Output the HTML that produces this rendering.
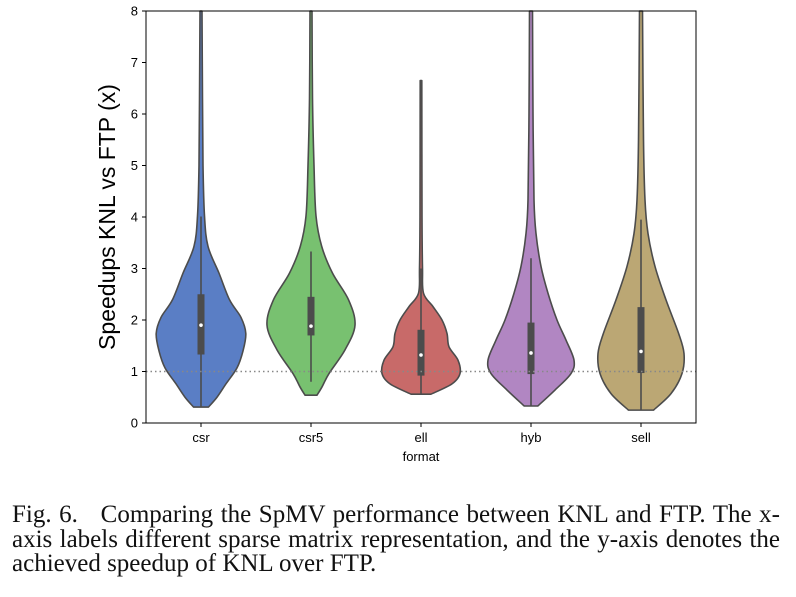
<!DOCTYPE html>
<html><head><meta charset="utf-8"><style>
body{margin:0;background:#fff;width:796px;height:597px;overflow:hidden;position:relative}
#cap{position:absolute;left:12px;top:503px;width:768px;font-family:"Liberation Serif",serif;font-size:25px;line-height:24.5px;color:#111}
#cap div{text-align:justify;text-align-last:justify;white-space:nowrap}
#cap div.last{text-align-last:left}
</style></head><body>
<svg id="chart" width="796" height="500" style="position:absolute;left:0;top:0" font-family="Liberation Sans, sans-serif"></svg>
<div id="cap">
<div>Fig. 6.&nbsp;&nbsp; Comparing the SpMV performance between KNL and FTP. The x-</div>
<div>axis labels different sparse matrix representation, and the y-axis denotes the</div>
<div class="last">achieved speedup of KNL over FTP.</div>
</div>
<script>
const categories=["csr","csr5","ell","hyb","sell"];
const colors=["#5a7ec5","#78c170","#c86a69","#b186c2","#bba774"];
const yTicks=[0,1,2,3,4,5,6,7,8];
const csrV=[0.31,0.5,0.76,1.07,1.4,1.74,2.05,2.39,2.91,3.43,4.02,5,6.28,8];
const csrW=[7.5,16,25,36,42,44.8,40,28.6,18,7,3.5,2,1.5,1];
const csr5V=[0.54,0.7,0.96,1.42,1.9,2.39,2.91,3.43,4.02,5,6.3,8];
const csr5W=[6,11,18,34,44,37.6,21.5,10.7,5,3,1.5,1];
const ellV=[0.56,0.76,0.96,1.22,1.48,1.74,2.0,2.26,2.52,3.0,4,6.65];
const ellW=[10,31,39,37,28,26,21,12,2.5,1.5,1,0.8];
const hybV=[0.33,0.64,0.96,1.22,1.61,2.0,2.52,3.04,3.68,4.33,6,8];
const hybW=[6.8,24,40,43,35,26,17,10,5,3,2,1.5];
const sellV=[0.25,0.57,0.96,1.35,1.74,2.39,3.04,3.68,4.33,5.5,8];
const sellW=[12.5,30,41,43,37.6,25,14,7,4,2.5,1.5];
const q1=[1.33,1.70,0.92,0.95,0.97];
const q3=[2.50,2.45,1.81,1.95,2.25];
const medians=[1.90,1.88,1.32,1.36,1.39];
const whiskLo=[0.31,0.80,0.56,0.33,0.25];
const whiskHi=[4.01,3.33,3.0,3.2,3.95];
const profiles=[[csrV,csrW],[csr5V,csr5W],[ellV,ellW],[hybV,hybW],[sellV,sellW]];

const svg=document.getElementById('chart');const NS="http://www.w3.org/2000/svg";
const L=146,R=696,T=11,B=423,ymax=8;
const y=v=>B-(v/ymax)*(B-T);
const x=i=>L+(R-L)*(i+0.5)/categories.length;
function el(tag,a,p){const e=document.createElementNS(NS,tag);for(const k in a)e.setAttribute(k,a[k]);(p||svg).appendChild(e);return e;}
function smooth(pts){
  let d="";
  for(let k=0;k<pts.length-1;k++){
    const p0=pts[Math.max(k-1,0)],p1=pts[k],p2=pts[k+1],p3=pts[Math.min(k+2,pts.length-1)];
    const c1=[p1[0]+(p2[0]-p0[0])/6,p1[1]+(p2[1]-p0[1])/6];
    const c2=[p2[0]-(p3[0]-p1[0])/6,p2[1]-(p3[1]-p1[1])/6];
    d+=" C"+c1[0]+","+c1[1]+" "+c2[0]+","+c2[1]+" "+p2[0]+","+p2[1];
  }
  return d;
}
categories.forEach((c,i)=>{
  const [vs,ws]=profiles[i];const cx=x(i);
  const left=vs.map((v,k)=>[cx-ws[k],y(v)]);
  const right=vs.map((v,k)=>[cx+ws[k],y(v)]).reverse();
  let d="M"+left[0][0]+","+left[0][1]+smooth(left)+" L"+right[0][0]+","+right[0][1]+smooth(right)+"Z";
  const p=el('path',{d:d,fill:colors[i],stroke:"#4c4c4c","stroke-width":1.6,"stroke-linejoin":"round"});
  
  
  const w=el('line',{x1:cx,x2:cx,y1:y(whiskLo[i]),y2:y(whiskHi[i]),stroke:"#4c4c4c","stroke-width":1.6});
  
  
  const b=el('rect',{x:cx-3.5,width:7,y:y(q3[i]),height:y(q1[i])-y(q3[i]),fill:"#4c4c4c"});
  
  
  const m=el('circle',{cx:cx,cy:y(medians[i]),r:1.8,fill:"#fff"});
  
  
  const t=el('line',{x1:cx,x2:cx,y1:B,y2:B+4,stroke:"#000"});
  
  
  const tl=el('text',{x:cx,y:B+19,"text-anchor":"middle","font-size":13});tl.textContent=c;
  
  
});
const ref=el('line',{x1:L,x2:R,y1:y(1),y2:y(1),stroke:"#888","stroke-width":1.6,"stroke-dasharray":"1.5,3"});


yTicks.forEach(v=>{
  const t=el('line',{x1:L-4,x2:L,y1:y(v),y2:y(v),stroke:"#000"});
  
  
  const tl=el('text',{x:L-8,y:y(v)+4.5,"text-anchor":"end","font-size":13});tl.textContent=v;
  
  
});
const fr=el('rect',{x:L,y:T,width:R-L,height:B-T,fill:"none",stroke:"#000","stroke-width":1});


const xt=el('text',{x:(L+R)/2,y:B+38,"text-anchor":"middle","font-size":13});xt.textContent="format";


const yt=el('text',{x:0,y:0,"text-anchor":"middle","font-size":23,transform:"translate(115,"+((T+B)/2)+") rotate(-90)"});yt.textContent="Speedups KNL vs FTP (x)";


</script>
</body></html>
